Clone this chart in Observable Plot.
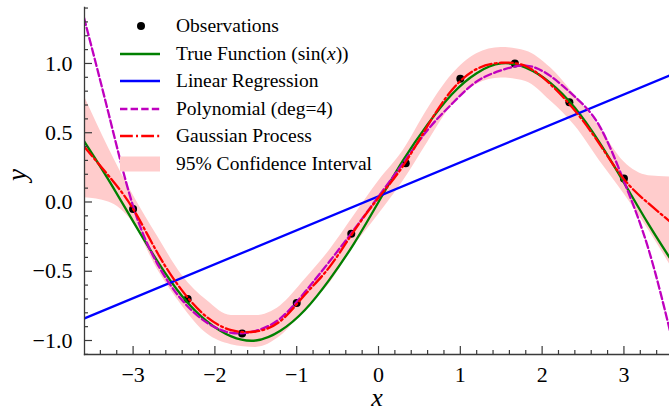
<!DOCTYPE html>
<html><head><meta charset="utf-8">
<script src="https://cdn.jsdelivr.net/npm/d3@7"></script>
<script src="https://cdn.jsdelivr.net/npm/@observablehq/plot@0.6"></script>
<style>
body{margin:0;background:#fff;}
#wrap{position:relative;width:669px;height:411px;font-family:"Liberation Serif","Times New Roman",serif;color:#000;}
#legend{position:absolute;left:0;top:0;width:669px;height:200px;pointer-events:none;}
.row{position:absolute;left:0;height:28px;width:400px;}
.row svg{position:absolute;left:120px;top:0;}
.row span{position:absolute;left:176px;top:0;line-height:28px;font-size:19.5px;white-space:nowrap;}
</style></head><body><div id="wrap"></div>
<script>
// ---- data ----
const obsX = [-3, -2.333, -1.667, -1, -0.333, 0.333, 1, 1.667, 2.333, 3];
const obsY = [-0.05, -0.70, -0.95, -0.73, -0.23, 0.28, 0.89, 1.00, 0.72, 0.17];

const gridX = [-3.6, -3.3, -3.0, -2.7, -2.4, -2.1, -1.8, -1.5, -1.2, -0.9, -0.6, -0.3, 0,
               0.3, 0.6, 0.9, 1.2, 1.5, 1.8, 2.1, 2.4, 2.7, 3.0, 3.3, 3.6];
const trueY = [0.44, 0.16, -0.14, -0.43, -0.68, -0.86, -0.97, -1.00, -0.93, -0.78, -0.56, -0.30, 0,
               0.30, 0.56, 0.78, 0.93, 1.00, 0.97, 0.86, 0.68, 0.43, 0.14, -0.16, -0.44];
const polyY = [1.33, 0.64, -0.03, -0.45, -0.71, -0.87, -0.945, -0.93, -0.84, -0.65, -0.43, -0.20, 0.04,
               0.28, 0.52, 0.71, 0.87, 0.95, 0.985, 0.91, 0.76, 0.55, 0.15, -0.34, -1.02];
const gpY   = [0.40, 0.19, -0.05, -0.37, -0.64, -0.83, -0.925, -0.935, -0.86, -0.67, -0.47, -0.21, 0.03,
               0.26, 0.55, 0.81, 0.96, 1.005, 0.98, 0.85, 0.66, 0.42, 0.165, -0.01, -0.16];
const ciLo  = [0.03, 0.00, -0.15, -0.49, -0.75, -0.95, -1.03, -1.05, -0.97, -0.78, -0.59, -0.32, -0.09,
               0.15, 0.43, 0.70, 0.85, 0.895, 0.87, 0.73, 0.55, 0.30, 0.06, -0.20, -0.49];
const ciHi  = [0.77, 0.39, 0.05, -0.25, -0.53, -0.71, -0.82, -0.82, -0.75, -0.56, -0.35, -0.10, 0.15,
               0.37, 0.67, 0.92, 1.07, 1.115, 1.09, 0.97, 0.77, 0.54, 0.29, 0.19, 0.18];

const linX = [-3.594, 3.557];
const linY = [-0.84, 0.913];

const xTicks = [-3, -2, -1, 0, 1, 2, 3];
const xTickLabels = ["−3", "−2", "−1", "0", "1", "2", "3"];
const yTicks = [-1, -0.5, 0, 0.5, 1];
const yTickLabels = ["−1.0", "−0.5", "0.0", "0.5", "1.0"];

const legendLabels = ["Observations", "True Function (sin(<i>x</i>))", "Linear Regression",
                      "Polynomial (deg=4)", "Gaussian Process", "95% Confidence Interval"];

// ---- build ----
const xDomain = [-3.594, 3.557];
const yDomain = [-1.101, 1.404];
const xMinor = d3.range(-3.4, 3.5, 0.2).filter(v => Math.abs(v - Math.round(v)) > 1e-6);
const yMinor = d3.range(-1.1, 1.45, 0.1).filter(v => Math.abs(v * 2 - Math.round(v * 2)) > 1e-6);

const series = ys => gridX.map((x, i) => ({x, y: ys[i]}));
const band = gridX.map((x, i) => ({x, lo: ciLo[i], hi: ciHi[i]}));
const obs = obsX.map((x, i) => ({x, y: obsY[i]}));
const lin = linX.map((x, i) => ({x, y: linY[i]}));
const spine = "#3a3a3a";
const LW = 2.3;

const chart = Plot.plot({
  width: 669, height: 411,
  marginLeft: 84, marginRight: 0, marginTop: 7, marginBottom: 57,
  style: {fontFamily: '"Liberation Serif", serif', background: "white", color: "black", overflow: "visible"},
  x: {domain: xDomain, label: null, axis: null},
  y: {domain: yDomain, label: null, axis: null},
  marks: [
    Plot.areaY(band, {x: "x", y1: "lo", y2: "hi", fill: "#ffcccc", curve: "monotone-x", clip: true}),
    Plot.dot(obs, {x: "x", y: "y", r: 4, fill: "black", clip: true}),
    Plot.line(series(trueY), {x: "x", y: "y", stroke: "green", strokeWidth: LW, curve: "natural", clip: true}),
    Plot.line(lin, {x: "x", y: "y", stroke: "blue", strokeWidth: LW, clip: true}),
    Plot.line(series(polyY), {x: "x", y: "y", stroke: "#bf00bf", strokeWidth: LW, strokeDasharray: "7.4,3.2", curve: "natural", clip: true}),
    Plot.line(series(gpY), {x: "x", y: "y", stroke: "red", strokeWidth: LW, strokeDasharray: "12.8,3.2,2,3.2", curve: "natural", clip: true}),
    Plot.frame({anchor: "left", stroke: spine, strokeWidth: 1.3}),
    Plot.frame({anchor: "bottom", stroke: spine, strokeWidth: 1.3}),
    Plot.axisX(xTicks, {anchor: "bottom", tickSize: -8, tickPadding: 20, stroke: spine, strokeWidth: 1.2,
      tickFormat: d => xTickLabels[xTicks.indexOf(d)], fontSize: 22, label: null}),
    Plot.axisX(xMinor, {anchor: "bottom", tickSize: -4, stroke: spine, strokeWidth: 1.2, fill: "none", label: null}),
    Plot.axisY(yTicks, {anchor: "left", tickSize: -8, tickPadding: 20, stroke: spine, strokeWidth: 1.2,
      tickFormat: d => yTickLabels[yTicks.indexOf(d)], fontSize: 22, label: null}),
    Plot.axisY(yMinor, {anchor: "left", tickSize: -4, stroke: spine, strokeWidth: 1.2, fill: "none", label: null}),
    Plot.text(["x"], {frameAnchor: "bottom", dy: 43, fontSize: 26, fontStyle: "italic", text: d => d, lineAnchor: "middle"}),
    Plot.text(["y"], {frameAnchor: "left", dx: -67, rotate: -90, fontSize: 27, fontStyle: "italic", text: d => d, lineAnchor: "middle"})
  ]
});
const wrap = document.getElementById("wrap");
wrap.appendChild(chart);

// ---- legend overlay ----
const legend = document.createElement("div");
legend.id = "legend";
const symbols = [
  `<circle cx="21" cy="14" r="4" fill="black"/>`,
  `<line x1="0" x2="40" y1="14" y2="14" stroke="green" stroke-width="2.3"/>`,
  `<line x1="0" x2="40" y1="14" y2="14" stroke="blue" stroke-width="2.3"/>`,
  `<line x1="0" x2="40" y1="14" y2="14" stroke="#bf00bf" stroke-width="2.3" stroke-dasharray="7.4,3.2"/>`,
  `<line x1="0" x2="40" y1="14" y2="14" stroke="red" stroke-width="2.3" stroke-dasharray="12.8,3.2,2,3.2"/>`,
  `<rect x="0" y="6.5" width="40" height="15" fill="#ffcccc"/>`
];
legendLabels.forEach((lab, i) => {
  const row = document.createElement("div");
  row.className = "row";
  row.style.top = (12 + i * 27.6) + "px";
  row.innerHTML = `<svg width="40" height="28" viewBox="0 0 40 28">${symbols[i]}</svg><span>${lab}</span>`;
  legend.appendChild(row);
});
wrap.appendChild(legend);
</script>
</body></html>
